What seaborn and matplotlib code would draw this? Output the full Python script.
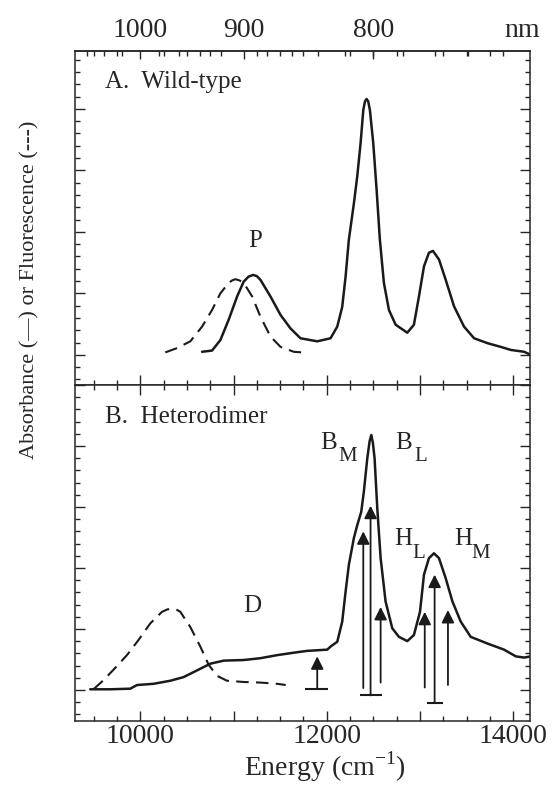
import numpy as np
import pandas as pd
import matplotlib
matplotlib.use("Agg")
import matplotlib.pyplot as plt
import seaborn as sns
from matplotlib.ticker import MultipleLocator, FixedLocator

# panel A, wild-type: absorbance (solid) and fluorescence (dashed), x in cm-1
wt_abs_x = [10663, 10770, 10859, 10948, 11039, 11109, 11160, 11210, 11250, 11289,
            11396, 11504, 11611, 11718, 11898, 12041, 12113, 12166, 12202, 12237,
            12291, 12327, 12363, 12392, 12410, 12427, 12445, 12463, 12499, 12535,
            12570, 12613, 12667, 12739, 12864, 12935, 12989, 13043, 13096, 13139,
            13204, 13276, 13365, 13472, 13580, 13724, 13866, 13974, 14117, 14189]
wt_abs_y = [0.05, 0.07, 0.24, 0.57, 0.95, 1.19, 1.27, 1.30, 1.28, 1.22,
            0.95, 0.65, 0.43, 0.27, 0.22, 0.27, 0.46, 0.78, 1.27, 1.87,
            2.46, 2.90, 3.44, 3.98, 4.12, 4.16, 4.12, 3.98, 3.44, 2.68,
            1.87, 1.17, 0.73, 0.49, 0.36, 0.49, 0.95, 1.44, 1.66, 1.69,
            1.55, 1.22, 0.79, 0.46, 0.27, 0.19, 0.13, 0.08, 0.05, 0.0]
wt_flu_x = [10269, 10394, 10537, 10663, 10770, 10859, 10948, 10985, 11020, 11065,
            11109, 11200, 11289, 11396, 11504, 11646, 11737]
wt_flu_y = [0.04, 0.11, 0.22, 0.46, 0.73, 1.00, 1.17, 1.21, 1.23, 1.21,
            1.17, 0.95, 0.62, 0.30, 0.13, 0.05, 0.04]

# panel B, heterodimer
het_abs_x = [9463, 9678, 9893, 9965, 10143, 10322, 10465, 10609, 10752, 10895,
             11109, 11289, 11468, 11646, 11790, 12005, 12041, 12113, 12166, 12202,
             12237, 12291, 12327, 12370, 12398, 12435, 12460, 12478, 12495, 12513,
             12542, 12578, 12631, 12703, 12774, 12864, 12935, 13000, 13043, 13096,
             13150, 13204, 13276, 13348, 13437, 13544, 13724, 13902, 14028, 14117,
             14189]
het_abs_y = [0.01, 0.01, 0.02, 0.08, 0.10, 0.15, 0.21, 0.32, 0.43, 0.48,
             0.49, 0.52, 0.57, 0.61, 0.64, 0.66, 0.71, 0.79, 1.12, 1.61,
             2.05, 2.49, 2.70, 2.92, 3.25, 3.80, 4.08, 4.18, 4.05, 3.80,
             2.98, 2.16, 1.45, 1.01, 0.87, 0.80, 0.90, 1.28, 1.89, 2.16,
             2.24, 2.16, 1.83, 1.45, 1.12, 0.87, 0.76, 0.66, 0.55, 0.53,
             0.55]
het_flu_x = [9498, 9606, 9731, 9857, 9982, 10107, 10233, 10290, 10340, 10385,
             10430, 10537, 10644, 10734, 10824, 10931, 11109, 11289, 11468, 11560]
het_flu_y = [0.01, 0.16, 0.36, 0.57, 0.82, 1.09, 1.28, 1.32, 1.33, 1.32,
             1.28, 1.03, 0.71, 0.41, 0.23, 0.15, 0.13, 0.12, 0.10, 0.08]

# transition sticks in panel B
stick_x = [11898, 12392, 12470, 12578, 13051, 13157, 13300]
stick_base = [0.01, 0.03, -0.09, 0.12, 0.04, -0.21, 0.08]
stick_tip = [0.55, 2.60, 3.02, 1.36, 1.28, 1.89, 1.31]
bar_y = [0.01, -0.09, -0.21]
bar_lo = [11772, 12356, 13078]
bar_hi = [12011, 12596, 13250]

energy_ticks = [10000, 11000, 12000, 13000, 14000]
energy_labels = ["10000", "", "12000", "", "14000"]
nm_ticks = [1000, 900, 800]
nm_labels = ["1000", "900", "800"]
nm_minor = list(range(720, 1080, 20))

sns.set_theme(style="ticks")
plt.rcParams["font.family"] = ["Liberation Serif", "DejaVu Serif"]
plt.rcParams["mathtext.fontset"] = "custom"
plt.rcParams["mathtext.rm"] = "Liberation Serif"
plt.rcParams["axes.linewidth"] = 1.1

W, H = 553, 791
fig = plt.figure(figsize=(W / 100, H / 100), dpi=100)
left, right = 75 / W, 530 / W
axA = fig.add_axes([left, 1 - 385 / H, right - left, (385 - 51) / H])
axB = fig.add_axes([left, 1 - 721 / H, right - left, (721 - 385) / H], sharex=axA)

dash = (0, (6, 3.5))
sns.lineplot(x=wt_abs_x, y=wt_abs_y, ax=axA, color="k", lw=1.8, sort=False, estimator=None)
sns.lineplot(x=wt_flu_x, y=wt_flu_y, ax=axA, color="k", lw=1.5, ls=dash, sort=False, estimator=None)
sns.lineplot(x=het_abs_x, y=het_abs_y, ax=axB, color="k", lw=1.8, sort=False, estimator=None)
sns.lineplot(x=het_flu_x, y=het_flu_y, ax=axB, color="k", lw=1.5, ls=dash, sort=False, estimator=None)

for x, b, t in zip(stick_x, stick_base, stick_tip):
    axB.annotate("", xy=(x, t), xytext=(x, b),
                 arrowprops=dict(arrowstyle="-|>", color="k", lw=1.3,
                                 mutation_scale=19, shrinkA=0, shrinkB=0))
axB.hlines(bar_y, bar_lo, bar_hi, color="k", lw=1.5)

axA.set_xlim(9300, 14180)
axA.set_ylim(-0.49, 4.94)
axB.set_ylim(-0.51, 5.0)

for ax in (axA, axB):
    ax.yaxis.set_major_locator(MultipleLocator(1))
    ax.yaxis.set_minor_locator(MultipleLocator(0.2))
    ax.xaxis.set_minor_locator(MultipleLocator(250))
    ax.tick_params(which="both", direction="in", left=True, right=True,
                   top=True, bottom=True, labelleft=False, width=1.0)
    ax.tick_params(which="major", length=7)
    ax.tick_params(which="minor", length=3.5)
    ax.set_ylabel("")
    ax.set_xlabel("")

axA.tick_params(top=False, labelbottom=False)
axB.set_xticks(energy_ticks)
axB.set_xticklabels(energy_labels, fontsize=20)
axB.tick_params(axis="x", pad=2)
axB.set_xlabel("Energy (cm$^{-1}$)", fontsize=20, labelpad=0)
axB.xaxis.set_label_coords((325 - 75) / (530 - 75), -0.085)

sec = axA.secondary_xaxis("top", functions=(lambda x: 1e7 / x, lambda x: 1e7 / x))
sec.set_xticks(nm_ticks)
sec.set_xticklabels(nm_labels, fontsize=20)
sec.xaxis.set_minor_locator(FixedLocator(nm_minor))
sec.tick_params(which="both", direction="in", width=1.0, pad=6)
sec.tick_params(which="major", length=6)
sec.tick_params(which="minor", length=3.5)
axA.annotate("nm", xy=(14100, 1), xycoords=("data", "axes fraction"),
             xytext=(0, 6), textcoords="offset points", ha="center", va="bottom",
             fontsize=20, annotation_clip=False)

axA.text(9624, 4.34, "A.  Wild-type", fontsize=18, va="baseline")
axA.text(11235, 1.76, "P", fontsize=18, ha="center", va="baseline")
axB.text(9624, 4.37, "B.  Heterodimer", fontsize=18, va="baseline")
axB.text(11200, 1.28, "D", fontsize=18, ha="center", va="baseline")
for (x, y, s, xs, ys, sub) in [(11933, 3.95, "B", 12123, 3.75, "M"),
                               (12739, 3.95, "B", 12935, 3.75, "L"),
                               (12720, 2.38, "H", 12917, 2.16, "L"),
                               (13372, 2.38, "H", 13552, 2.16, "M")]:
    axB.text(x, y, s, fontsize=18, va="baseline")
    axB.text(xs, ys, sub, fontsize=15, va="baseline")

fig.text(30 / W, 1 - 290 / H, "Absorbance (\u2014) or Fluorescence (---)",
         rotation=90, ha="center", va="center", fontsize=16)

fig.savefig("out.png", dpi=100, facecolor="white")
